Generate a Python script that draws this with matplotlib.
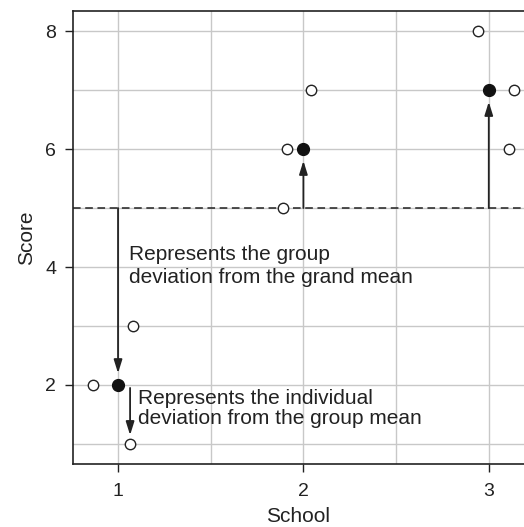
import matplotlib
matplotlib.use("Agg")
import matplotlib.pyplot as plt
from matplotlib.ticker import MultipleLocator

plt.rcParams["font.family"] = ["Liberation Sans", "DejaVu Sans"]

# individual scores (open circles), jittered school position
ind_x = [0.865, 1.08, 1.065, 1.89, 1.91, 2.04, 2.94, 3.135, 3.11]
ind_y = [2, 3, 1, 5, 6, 7, 8, 7, 6]

# group means (filled circles)
schools = [1, 2, 3]
group_means = [2, 6, 7]
grand_mean = 5

# individual-deviation example
ind_arrow_x = 1.065
ind_arrow_from = 1.95
ind_arrow_to = 1.15

group_label = "Represents the group\ndeviation from the grand mean"
indiv_label = "Represents the individual\ndeviation from the group mean"

fig = plt.figure(figsize=(5.24, 5.27), dpi=100)
ax = fig.add_axes([0.1393, 0.1195, 0.8607, 0.8596])

ax.set_xlim(0.757, 3.19)
ax.set_ylim(0.66, 8.34)

ax.xaxis.set_major_locator(MultipleLocator(1))
ax.xaxis.set_minor_locator(MultipleLocator(0.5))
ax.yaxis.set_major_locator(MultipleLocator(2))
ax.yaxis.set_minor_locator(MultipleLocator(1))
ax.grid(True, which="both", color="#c8c8c8", linewidth=1.0)
ax.set_axisbelow(True)
ax.tick_params(which="major", direction="out", length=6, width=1, labelsize=14, colors="#222222")
ax.tick_params(axis="x", pad=8)
ax.tick_params(axis="y", pad=6)
ax.tick_params(which="minor", length=0)

for side in ["left", "bottom", "top"]:
    ax.spines[side].set_color("#222222")
    ax.spines[side].set_linewidth(1.2)
ax.spines["right"].set_visible(False)

ax.axhline(grand_mean, color="#222222", linestyle=(0, (5, 3)), linewidth=1.1, zorder=2)

arrow_kw = dict(arrowstyle="-|>,head_length=0.8,head_width=0.25", color="#222222",
                linewidth=1.3, shrinkA=0, shrinkB=0)
for s, m in zip(schools, group_means):
    tip = m + 0.2 if m < grand_mean else m - 0.2
    ax.annotate("", xy=(s, tip), xytext=(s, grand_mean), arrowprops=arrow_kw, zorder=3)

ax.annotate("", xy=(ind_arrow_x, ind_arrow_to), xytext=(ind_arrow_x, ind_arrow_from),
            arrowprops=arrow_kw, zorder=3)

ax.plot(ind_x, ind_y, linestyle="none", marker="o", markersize=7.5,
        markerfacecolor="white", markeredgecolor="#222222", markeredgewidth=1.0, zorder=4)
ax.plot(schools, group_means, linestyle="none", marker="o", markersize=8.5,
        markerfacecolor="#111111", markeredgecolor="#111111", zorder=4)

ax.text(1.06, 4.38, group_label, fontsize=15, color="#222222", va="top", ha="left",
        linespacing=1.3)
ax.text(1.11, 1.94, indiv_label, fontsize=15, color="#222222", va="top", ha="left",
        linespacing=1.1)

ax.set_xlabel("School", fontsize=15, color="#222222", labelpad=5)
ax.set_ylabel("Score", fontsize=15, color="#222222", labelpad=7)

fig.savefig("out.png", dpi=100)
